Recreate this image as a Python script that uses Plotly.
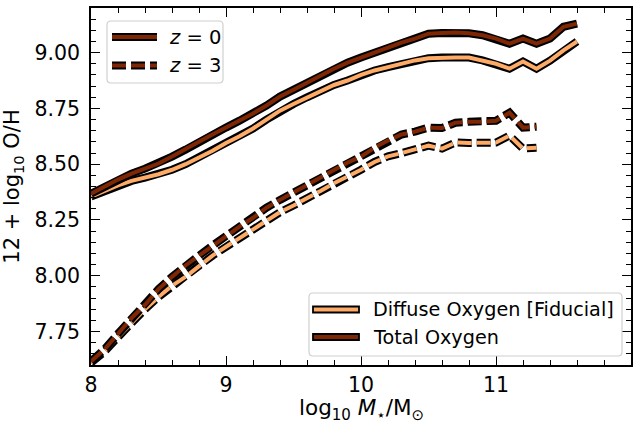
import plotly.graph_objects as go

# ---------------- data ----------------
mass_z0 = [8.0, 8.1, 8.2, 8.3, 8.4, 8.5, 8.6, 8.7, 8.8, 8.9,
           9.0, 9.1, 9.2, 9.3, 9.4, 9.5, 9.6, 9.7, 9.8, 9.9,
           10.0, 10.1, 10.2, 10.3, 10.4, 10.5, 10.6, 10.7, 10.8, 10.9,
           11.0, 11.1, 11.2, 11.3, 11.4, 11.5, 11.6]
total_z0 = [8.368, 8.400, 8.431, 8.458, 8.480, 8.503, 8.534, 8.565, 8.601, 8.633,
            8.664, 8.695, 8.727, 8.763, 8.803, 8.834, 8.866, 8.897, 8.928, 8.955,
            8.978, 9.000, 9.022, 9.045, 9.063, 9.085, 9.088, 9.090, 9.087, 9.078,
            9.063, 9.040, 9.063, 9.040, 9.063, 9.116, 9.130]
diffuse_z0 = [8.355, 8.380, 8.405, 8.425, 8.440, 8.455, 8.475, 8.500, 8.530, 8.560,
              8.595, 8.625, 8.660, 8.700, 8.740, 8.770, 8.800, 8.830, 8.855, 8.875,
              8.900, 8.920, 8.935, 8.950, 8.965, 8.975, 8.978, 8.978, 8.978, 8.965,
              8.950, 8.928, 8.960, 8.928, 8.964, 9.010, 9.050]

mass_z3 = [8.0, 8.1, 8.2, 8.3, 8.4, 8.5, 8.6, 8.7, 8.8, 8.9,
           9.0, 9.1, 9.2, 9.3, 9.4, 9.5, 9.6, 9.7, 9.8, 9.9,
           10.0, 10.1, 10.2, 10.3, 10.4, 10.5, 10.6, 10.7, 10.8, 10.9,
           11.0, 11.1, 11.2, 11.3]
total_z3 = [7.616, 7.670, 7.740, 7.810, 7.870, 7.940, 7.995, 8.046, 8.090, 8.135,
            8.180, 8.220, 8.260, 8.305, 8.340, 8.373, 8.410, 8.440, 8.476, 8.507,
            8.534, 8.574, 8.606, 8.633, 8.646, 8.664, 8.662, 8.686, 8.690, 8.690,
            8.695, 8.731, 8.664, 8.668]
diffuse_z3 = [7.610, 7.660, 7.725, 7.790, 7.850, 7.905, 7.955, 7.995, 8.045, 8.090,
              8.130, 8.170, 8.210, 8.245, 8.285, 8.315, 8.345, 8.380, 8.415, 8.445,
              8.475, 8.510, 8.535, 8.550, 8.565, 8.583, 8.570, 8.597, 8.595, 8.595,
              8.597, 8.628, 8.570, 8.574]

x_ticks = [8, 9, 10, 11]
x_tick_labels = ["8", "9", "10", "11"]
y_ticks = [7.75, 8.00, 8.25, 8.50, 8.75, 9.00]
y_tick_labels = ["7.75", "8.00", "8.25", "8.50", "8.75", "9.00"]
x_minor = [8.2, 8.4, 8.6, 8.8, 9.2, 9.4, 9.6, 9.8, 10.2, 10.4, 10.6, 10.8,
           11.2, 11.4, 11.6, 11.8]
y_minor = [7.65, 7.70, 7.80, 7.85, 7.90, 7.95, 8.05, 8.10, 8.15, 8.20, 8.30, 8.35,
           8.40, 8.45, 8.55, 8.60, 8.65, 8.70, 8.80, 8.85, 8.90, 8.95, 9.05, 9.10, 9.15]
x_title = "log<sub>10</sub> <i>M</i><sub>⋆</sub>/M<sub>⊙</sub>"
y_title = "12 + log<sub>10</sub> O/H"

# ---------------- style ----------------
LIGHT = "#fdab67"
DARK = "#7f2704"
FONT = "DejaVu Sans"
DASH = "14px,5px"
W_OUT, W_IN = 8, 4

fig = go.Figure()

def outlined(x, y, color, dash):
    fig.add_trace(go.Scatter(x=x, y=y, mode="lines", hoverinfo="skip", showlegend=False,
                             line=dict(color="black", width=W_OUT, dash=dash)))
    fig.add_trace(go.Scatter(x=x, y=y, mode="lines", hoverinfo="skip", showlegend=False,
                             line=dict(color=color, width=W_IN, dash=dash)))

outlined(mass_z0, diffuse_z0, LIGHT, "solid")
outlined(mass_z0, total_z0, DARK, "solid")
outlined(mass_z3, diffuse_z3, LIGHT, DASH)
outlined(mass_z3, total_z3, DARK, DASH)

# ---------------- manual legends (pixel -> paper) ----------------
PL, PR, PT, PB = 91, 631, 8, 365
def px(v):
    return (v - PL) / (PR - PL)
def py(v):
    return (PB - v) / (PB - PT)

def rounded_box(x0, y0, x1, y1, r=4):
    rx = r / (PR - PL)
    ry = r / (PB - PT)
    X0, X1 = px(x0), px(x1)
    Y0, Y1 = py(y1), py(y0)  # bottom, top in paper
    path = (f"M {X0+rx},{Y0} L {X1-rx},{Y0} Q {X1},{Y0} {X1},{Y0+ry} "
            f"L {X1},{Y1-ry} Q {X1},{Y1} {X1-rx},{Y1} L {X0+rx},{Y1} "
            f"Q {X0},{Y1} {X0},{Y1-ry} L {X0},{Y0+ry} Q {X0},{Y0} {X0+rx},{Y0} Z")
    fig.add_shape(type="path", path=path, xref="paper", yref="paper", layer="above",
                  line=dict(color="#d0d0d0", width=1.2),
                  fillcolor="rgba(255,255,255,0.8)")

# legend 1 (redshift)
rounded_box(107, 21, 223, 83)
for yy, dash in [(37, "solid"), (65.5, DASH)]:
    for w, c in [(W_OUT, "black"), (W_IN, DARK)]:
        fig.add_shape(type="line", xref="paper", yref="paper", layer="above",
                      x0=px(112), x1=px(157), y0=py(yy), y1=py(yy),
                      line=dict(color=c, width=w, dash=dash))
legend1_labels = ["<i>z</i> = 0", "<i>z</i> = 3"]
for yy, txt in zip([37, 65.5], legend1_labels):
    fig.add_annotation(x=px(167), y=py(yy), xref="paper", yref="paper", text=txt,
                       showarrow=False, xanchor="left", yanchor="middle",
                       font=dict(family=FONT, size=19.5, color="black"))

# legend 2 (oxygen type)
rounded_box(309, 293, 622, 356)
for (y0, y1), c in [((306.5, 312.5), LIGHT), ((334, 340), DARK)]:
    fig.add_shape(type="rect", xref="paper", yref="paper", layer="above",
                  x0=px(313), x1=px(359), y0=py(y1), y1=py(y0),
                  line=dict(color="black", width=1.8), fillcolor=c)
legend2_labels = ["Diffuse Oxygen [Fiducial]", "Total Oxygen"]
for yy, txt in zip([309.5, 337], legend2_labels):
    fig.add_annotation(x=px(371), y=py(yy), xref="paper", yref="paper", text=txt,
                       showarrow=False, xanchor="left", yanchor="middle",
                       font=dict(family=FONT, size=19.2, color="black"))

# x-axis title placed as an annotation just below the tick labels
fig.add_annotation(x=0.5, y=py(425), xref="paper", yref="paper", text=x_title,
                   showarrow=False, xanchor="center", yanchor="bottom", borderpad=0,
                   font=dict(family=FONT, size=21.5, color="black"))

axis_common = dict(showline=True, linecolor="black", linewidth=1.5, mirror="allticks",
                   ticks="inside", ticklen=9, tickwidth=1.3, tickcolor="black",
                   showgrid=False, zeroline=False,
                   tickfont=dict(family=FONT, size=20.5, color="black"))

fig.update_xaxes(range=[8, 12], tickmode="array", tickvals=x_ticks, ticktext=x_tick_labels,
                 minor=dict(ticks="inside", ticklen=5, tickwidth=1.1, tickcolor="black",
                            tickmode="array", tickvals=x_minor, showgrid=False),
                 ticklabelstandoff=1,
                 **axis_common)
fig.update_yaxes(range=[7.6, 9.2], tickmode="array", tickvals=y_ticks, ticktext=y_tick_labels,
                 minor=dict(ticks="inside", ticklen=5, tickwidth=1.1, tickcolor="black",
                            tickmode="array", tickvals=y_minor, showgrid=False),
                 title=dict(text=y_title,
                            font=dict(family=FONT, size=21, color="black"), standoff=9),
                 ticklabelstandoff=5,
                 **axis_common)

fig.update_layout(width=633, height=424, autosize=False,
                  margin=dict(l=PL, r=633 - PR, t=PT, b=424 - PB, autoexpand=False),
                  paper_bgcolor="white", plot_bgcolor="white",
                  font=dict(family=FONT, color="black"), showlegend=False)

fig.write_html("out.html")
